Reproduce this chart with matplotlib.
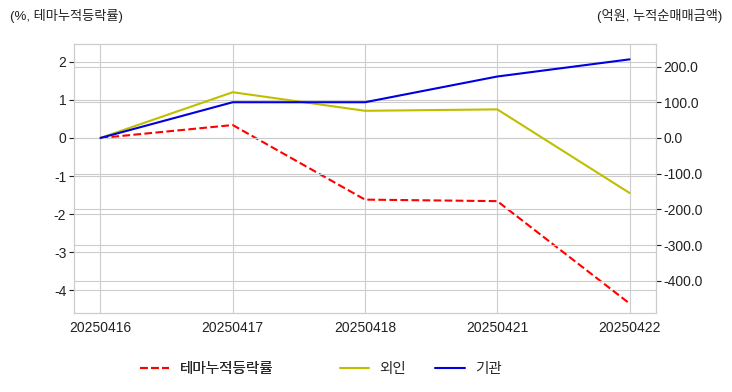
import matplotlib.pyplot as plt
import seaborn as sns

dates = ["20250416", "20250417", "20250418", "20250421", "20250422"]
theme_rate = [0.0, 0.34, -1.62, -1.66, -4.35]
foreign = [0.0, 128.0, 76.0, 80.0, -154.0]
institution = [0.0, 100.0, 100.0, 172.0, 220.0]

sns.set_style("whitegrid")
plt.rcParams['font.family'] = ['Liberation Sans', 'Noto Sans CJK KR']
plt.rcParams['axes.unicode_minus'] = False

fig = plt.figure(figsize=(7.32, 3.92), dpi=100)
ax1 = fig.add_axes([74 / 732, 1 - 313 / 392, 582 / 732, 269 / 392])
ax2 = ax1.twinx()

x = range(len(dates))
l1, = ax1.plot(x, theme_rate, color="red", linestyle="--", linewidth=1.5, label="테마누적등락률")
l2, = ax2.plot(x, foreign, color="#bfbf00", linewidth=1.5, label="외인")
l3, = ax2.plot(x, institution, color="#0000e0", linewidth=1.5, label="기관")

ax1.set_xlim(-0.2, 4.2)
ax1.set_xticks(list(x))
ax1.set_xticklabels(dates)
ax1.set_ylim(-4.6, 2.47)
ax1.set_yticks([-4, -3, -2, -1, 0, 1, 2])
ax2.set_ylim(-490, 263)
ax2.set_yticks([-400, -300, -200, -100, 0, 100, 200])
ax2.set_yticklabels(["%.1f" % v for v in [-400, -300, -200, -100, 0, 100, 200]])
ax2.grid(True, color="#cccccc")
ax1.grid(True, color="#cccccc")

for ax in (ax1, ax2):
    ax.tick_params(labelsize=10, colors="#222222", pad=2)
    for s in ax.spines.values():
        s.set_color("#cccccc")

fig.text(10 / 732, 1 - 16 / 392, "(%, 테마누적등락률)", fontsize=9.5, color="#222222",
         ha="left", va="center")
fig.text(722 / 732, 1 - 16 / 392, "(억원, 누적순매매금액)", fontsize=9.5, color="#222222",
         ha="right", va="center")

leg_a = fig.legend(handles=[l1], loc="center left", bbox_to_anchor=(127 / 732, 1 - 369 / 392),
                   frameon=False, fontsize=10.5, handlelength=2.0, handletextpad=0.7)
fig.add_artist(leg_a)
fig.legend(handles=[l2, l3], loc="center left", bbox_to_anchor=(327 / 732, 1 - 369 / 392),
           ncol=2, frameon=False, fontsize=10.5, handlelength=2.0, handletextpad=0.7,
           columnspacing=2.0)

fig.savefig("out.png", dpi=100)
